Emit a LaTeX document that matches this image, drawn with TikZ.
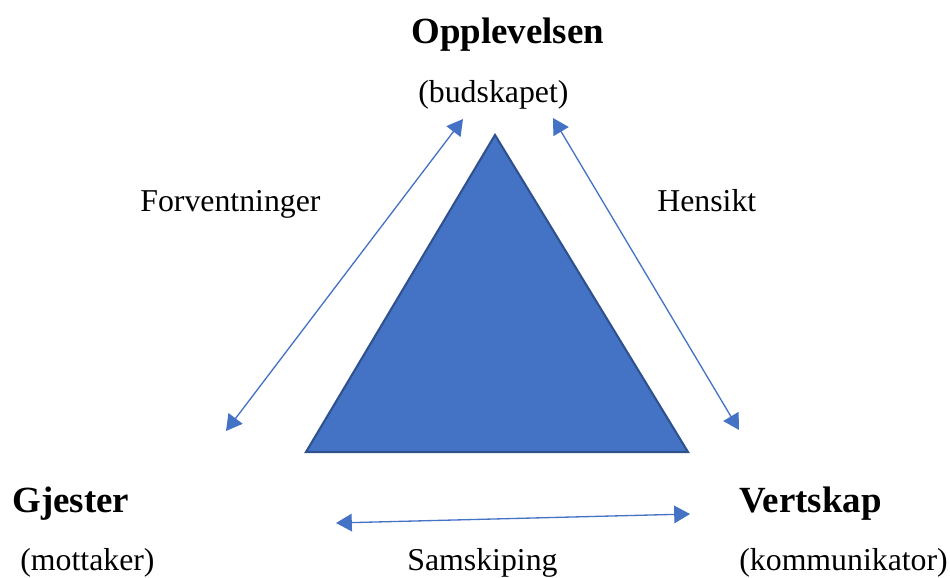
\documentclass[tikz,border=0pt]{standalone}
\usepackage{fontspec}
\setmainfont{Liberation Serif}
\usetikzlibrary{arrows.meta}
\definecolor{triFill}{HTML}{4472C4}
\definecolor{triLine}{HTML}{2F528F}
\definecolor{arrCol}{HTML}{4472C4}
\begin{document}
\begin{tikzpicture}[x=0.02cm,y=-0.02cm,
  head/.style={font=\fontsize{21}{25}\selectfont\bfseries,anchor=base west,inner sep=0pt},
  sub/.style={font=\fontsize{18.1}{22}\selectfont,anchor=base west,inner sep=0pt},
  link/.style={draw=arrCol,line width=0.75pt,{Triangle[length=9pt,width=10pt]}-{Triangle[length=9pt,width=10pt]}}]
\useasboundingbox (0,0) rectangle (950,578);
\coordinate (apex) at (495,135);
\coordinate (bl) at (306,452);
\coordinate (br) at (688,452);
\fill[triFill] (apex) -- (bl) -- (br) -- cycle;
\draw[triLine,line width=1.2pt,line join=miter] (apex) -- (bl) -- (br) -- cycle;
\node[head] (opp) at (411,43) {Opplevelsen};
\node[sub] (bud) at (418,102) {(budskapet)};
\node[head] (gje) at (12,512) {Gjester};
\node[sub] (mot) at (20,570) {(mottaker)};
\node[head] (ver) at (739,512) {Vertskap};
\node[sub] (kom) at (739,570) {(kommunikator)};
\node[sub] (forv) at (140,211) {Forventninger};
\node[sub] (hens) at (657,211) {Hensikt};
\node[sub] (sams) at (407,570) {Samskiping};
\coordinate (l1) at (463,119);
\coordinate (l2) at (226,431);
\coordinate (r1) at (553,118);
\coordinate (r2) at (739,430);
\coordinate (b1) at (336,523);
\coordinate (b2) at (690,514);
\draw[link] (l1) -- (l2);
\draw[link] (r1) -- (r2);
\draw[link] (b1) -- (b2);
\end{tikzpicture}
\end{document}
